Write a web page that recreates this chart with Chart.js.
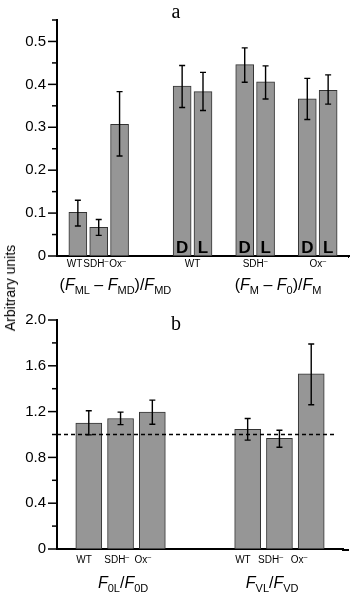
<!DOCTYPE html>
<html>
<head>
<meta charset="utf-8">
<script src="https://cdn.jsdelivr.net/npm/chart.js@4"></script>
<style>
  html,body{margin:0;padding:0;background:#fff;}
  #wrap{position:relative;width:350px;height:596px;overflow:hidden;}
  canvas{position:absolute;left:0;}
  #ytitle{position:absolute;left:10px;top:288px;transform:translate(-50%,-50%) rotate(-90deg);
    font:14px "Liberation Sans",Arial,sans-serif;white-space:nowrap;color:#000;}
</style>
</head>
<body>
<div id="wrap">
  <canvas id="chartA" width="350" height="300" style="top:0"></canvas>
  <canvas id="chartB" width="350" height="296" style="top:300px"></canvas>
  <div id="ytitle">Arbitrary units</div>
</div>
<script>
// panel a
const labelsA = ["", "WT", "SDH-", "Ox-", "", "", "WT D", "WT L", "", "SDH- D", "SDH- L", "", "Ox- D", "Ox- L", ""];
const valuesA = [null, 0.102, 0.067, 0.307, null, null, 0.396, 0.383, null, 0.446, 0.406, null, 0.366, 0.386, null];
const errHiA  = [null, 0.130, 0.085, 0.383, null, null, 0.444, 0.428, null, 0.485, 0.443, null, 0.414, 0.422, null];
const errLoA  = [null, 0.070, 0.048, 0.233, null, null, 0.346, 0.339, null, 0.405, 0.366, null, 0.318, 0.354, null];
const lettersA = ["", "", "", "", "", "", "D", "L", "", "D", "L", "", "D", "L", ""];
const ticksA = [0, 0.1, 0.2, 0.3, 0.4, 0.5];
const minorA = [0.05, 0.15, 0.25, 0.35, 0.45, 0.55];

// panel b
const labelsB = ["", "WT", "SDH-", "Ox-", "", "", "WT", "SDH-", "Ox-", ""];
const valuesB = [null, 1.100, 1.140, 1.195, null, null, 1.046, 0.966, 1.530, null];
const errHiB  = [null, 1.207, 1.195, 1.300, null, null, 1.140, 1.037, 1.790, null];
const errLoB  = [null, 0.997, 1.086, 1.089, null, null, 0.951, 0.889, 1.260, null];
const ticksB = [0, 0.4, 0.8, 1.2, 1.6, 2.0];
const minorB = [0.2, 0.6, 1.0, 1.4, 1.8];
const refLineB = 1.0;

const SANS = '"Liberation Sans", Arial, sans-serif';
const SERIF = '"Liberation Serif", "Times New Roman", serif';

// rich text: n normal, i italic, sub, sup
function drawRich(ctx, segs, cx, y, size) {
  const small = Math.round(size * 0.68);
  const fontFor = s => s.m === "i" ? `italic ${size}px ${SANS}` :
    (s.m === "sub" || s.m === "sup") ? `${small}px ${SANS}` : `${size}px ${SANS}`;
  let w = 0;
  segs.forEach(s => { ctx.font = fontFor(s); w += ctx.measureText(s.t).width; });
  let x = cx - w / 2;
  ctx.textAlign = "left";
  ctx.textBaseline = "alphabetic";
  segs.forEach(s => {
    ctx.font = fontFor(s);
    const dy = s.m === "sub" ? size * 0.22 : s.m === "sup" ? -size * 0.45 : 0;
    ctx.fillText(s.t, x, y + dy);
    x += ctx.measureText(s.t).width;
  });
}
function catLabel(name) {
  // "SDH-" -> SDH with superscript minus
  if (name.endsWith("-")) return [{t: name.slice(0, -1), m: "n"}, {t: "\u2013", m: "sup"}];
  return [{t: name, m: "n"}];
}

function decor(opts) {
  return {
    id: "decor",
    afterDatasetsDraw(chart) {
      const ctx = chart.ctx, x = chart.scales.x, y = chart.scales.y, ca = chart.chartArea;
      const px = i => x.getPixelForValue(0) + i * (x.getPixelForValue(1) - x.getPixelForValue(0));
      ctx.save();
      ctx.fillStyle = "#000"; ctx.strokeStyle = "#000";

      // reference line
      if (opts.refLine != null) {
        ctx.setLineDash([4, 3]); ctx.lineWidth = 1.3;
        const yy = y.getPixelForValue(opts.refLine);
        ctx.beginPath(); ctx.moveTo(ca.left, yy); ctx.lineTo(ca.right - 8, yy); ctx.stroke();
        ctx.setLineDash([]);
      }

      // error bars
      ctx.lineWidth = 1.4;
      opts.values.forEach((v, i) => {
        if (v == null) return;
        const xx = x.getPixelForValue(i);
        const y1 = y.getPixelForValue(opts.hi[i]), y2 = y.getPixelForValue(opts.lo[i]);
        ctx.beginPath();
        ctx.moveTo(xx, y1); ctx.lineTo(xx, y2);
        ctx.moveTo(xx - 3, y1); ctx.lineTo(xx + 3, y1);
        ctx.moveTo(xx - 3, y2); ctx.lineTo(xx + 3, y2);
        ctx.stroke();
      });

      // D / L letters
      if (opts.letters) {
        ctx.font = `bold 17px ${SANS}`; ctx.textAlign = "center"; ctx.textBaseline = "alphabetic";
        opts.letters.forEach((l, i) => { if (l) ctx.fillText(l, x.getPixelForValue(i), ca.bottom - 3); });
      }

      // y tick marks
      ctx.lineWidth = 1.5;
      opts.major.forEach(v => {
        const yy = y.getPixelForValue(v);
        ctx.beginPath(); ctx.moveTo(ca.left - 9, yy); ctx.lineTo(ca.left, yy); ctx.stroke();
      });
      opts.minor.forEach(v => {
        const yy = y.getPixelForValue(v);
        ctx.beginPath(); ctx.moveTo(ca.left - 5, yy); ctx.lineTo(ca.left, yy); ctx.stroke();
      });

      // axis line extension
      ctx.lineWidth = 2;
      ctx.beginPath(); ctx.moveTo(ca.right - 1, ca.bottom + 1); ctx.lineTo(349, ca.bottom + 1); ctx.stroke();

      // category labels
      opts.catLabels.forEach(c => drawRich(ctx, catLabel(c.t), px(c.at), opts.catY, 10));
      // formula labels
      opts.formulas.forEach(f => drawRich(ctx, f.segs, px(f.at), opts.formY, 16));

      // panel letter
      ctx.font = `20px ${SERIF}`; ctx.textAlign = "center"; ctx.textBaseline = "alphabetic";
      ctx.fillText(opts.panel, opts.panelX, opts.panelY);
      ctx.restore();
    }
  };
}

function makeChart(id, labels, values, yMax, ticks, pad, barW, plug) {
  return new Chart(document.getElementById(id), {
    type: "bar",
    data: { labels, datasets: [{ data: values, backgroundColor: "#969696", borderColor: "#333333",
      borderWidth: 1, barThickness: barW, borderSkipped: false }] },
    options: {
      responsive: false, animation: false, devicePixelRatio: 1,
      layout: { padding: pad },
      plugins: { legend: { display: false }, tooltip: { enabled: false } },
      scales: {
        x: { offset: false, grid: { display: false, drawTicks: false }, ticks: { display: false },
             border: { display: true, color: "#000", width: 2 } },
        y: { min: 0, max: yMax,
             afterBuildTicks: s => { s.ticks = ticks.map(v => ({ value: v })); },
             afterFit: s => { s.width = 57; },
             grid: { display: false, drawTicks: false },
             border: { display: true, color: "#000", width: 2 },
             ticks: { padding: 11, color: "#000", font: { family: SANS, size: 15 },
                      callback: v => v === 0 ? "0" : Number(v).toFixed(1) } }
      }
    },
    plugins: [plug]
  });
}

makeChart("chartA", labelsA, valuesA, 0.55, ticksA, { top: 17, right: 1, bottom: 44, left: 0 },
  18, decor({
    values: valuesA, hi: errHiA, lo: errLoA, letters: lettersA, major: ticksA, minor: minorA,
    catY: 267, formY: 290, panel: "a", panelX: 176, panelY: 18,
    catLabels: [{t: "WT", at: 0.84}, {t: "SDH-", at: 1.86}, {t: "Ox-", at: 2.9},
                {t: "WT", at: 6.5}, {t: "SDH-", at: 9.5}, {t: "Ox-", at: 12.5}],
    formulas: [
      { at: 2.8, segs: [{t: "(", m: "n"}, {t: "F", m: "i"}, {t: "ML", m: "sub"}, {t: " \u2013 ", m: "n"},
        {t: "F", m: "i"}, {t: "MD", m: "sub"}, {t: ")/", m: "n"}, {t: "F", m: "i"}, {t: "MD", m: "sub"}] },
      { at: 10.6, segs: [{t: "(", m: "n"}, {t: "F", m: "i"}, {t: "M", m: "sub"}, {t: " \u2013 ", m: "n"},
        {t: "F", m: "i"}, {t: "0", m: "sub"}, {t: ")/", m: "n"}, {t: "F", m: "i"}, {t: "M", m: "sub"}] }
    ]
  }));

makeChart("chartB", labelsB, valuesB, 2.0, ticksB, { top: 16, right: 7, bottom: 47, left: 0 },
  26, decor({
    values: valuesB, hi: errHiB, lo: errLoB, letters: null, major: ticksB, minor: minorB, refLine: refLineB,
    catY: 263, formY: 288, panel: "b", panelX: 176, panelY: 30,
    catLabels: [{t: "WT", at: 0.85}, {t: "SDH-", at: 1.88}, {t: "Ox-", at: 2.7},
                {t: "WT", at: 5.85}, {t: "SDH-", at: 6.72}, {t: "Ox-", at: 7.62}],
    formulas: [
      { at: 2.08, segs: [{t: "F", m: "i"}, {t: "0L", m: "sub"}, {t: "/", m: "n"}, {t: "F", m: "i"}, {t: "0D", m: "sub"}] },
      { at: 6.77, segs: [{t: "F", m: "i"}, {t: "VL", m: "sub"}, {t: "/", m: "n"}, {t: "F", m: "i"}, {t: "VD", m: "sub"}] }
    ]
  }));
</script>
</body>
</html>
